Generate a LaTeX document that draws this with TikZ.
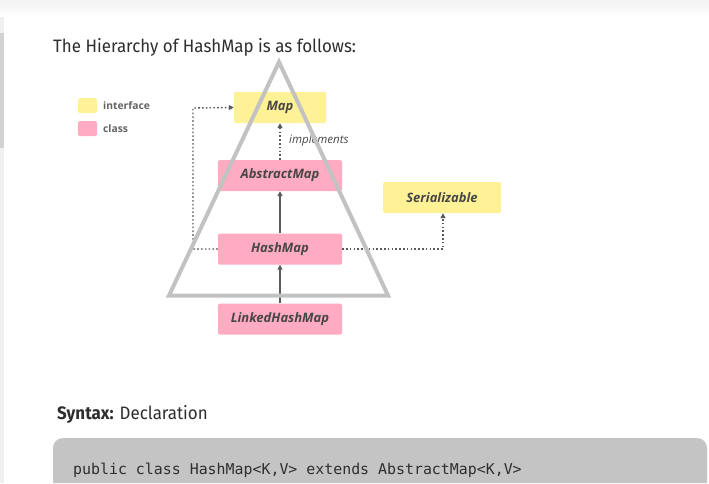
\documentclass[tikz,border=0pt]{standalone}
\usepackage{fontspec}
\setmainfont{Open Sans}
\newfontfamily\titlefont{Fira Sans}
\newfontfamily\codefont{DejaVu Sans Mono}
\usetikzlibrary{arrows.meta}
\definecolor{ifyellow}{HTML}{FFF196}
\definecolor{clpink}{HTML}{FFABC1}
\definecolor{boxtext}{HTML}{474747}
\definecolor{linegray}{HTML}{5A5A5A}
\definecolor{trigray}{HTML}{C2C2C2}
\definecolor{codebg}{HTML}{C4C4C4}
\definecolor{pagetext}{HTML}{2E2E2E}
\tikzset{
  boxbase/.style={rounded corners=1.5pt, minimum height=31pt, inner sep=0pt,
    font=\fontsize{13}{15}\selectfont\bfseries\itshape, text=boxtext},
  ifbox/.style={boxbase, fill=ifyellow},
  clbox/.style={boxbase, fill=clpink},
  legsq/.style={rounded corners=1.5pt, minimum width=19pt, minimum height=15pt, inner sep=0pt},
  legtext/.style={anchor=west, inner sep=0pt, font=\fontsize{10.3}{12}\selectfont\bfseries, text=boxtext!85},
  solidarrow/.style={draw=linegray, line width=1.3pt, -{Triangle[width=5pt,length=5pt]}},
  dotline/.style={draw=linegray, line width=1.4pt, dash pattern=on 1.6pt off 2.2pt},
  dotarrow/.style={dotline, -{Triangle[width=5pt,length=5pt]}},
  pagestyle/.style={anchor=base west, inner sep=0pt, text=pagetext},
}
\begin{document}
\begin{tikzpicture}[x=1pt,y=-1pt]
\useasboundingbox (0,0) rectangle (709,483);
\fill[white] (0,0) rectangle (709,483);
% top shadow band
\fill[gray!8] (0,0) rectangle (709,5);
\shade[top color=gray!8, bottom color=white] (0,5) rectangle (709,16);
% left strip
\fill[gray!12] (0,17) rectangle (3.5,483);
\fill[gray!35] (0,33) rectangle (3.5,148);
% title
\node[pagestyle] (title) at (53,52)
  {\titlefont\fontsize{18}{20}\selectfont\scalebox{0.94}[1]{The Hierarchy of HashMap is as follows:}};
% legend
\node[legsq, fill=ifyellow] (lgi) at (87.5,105.5) {};
\node[legtext] (lgit) at (103,106) {interface};
\node[legsq, fill=clpink] (lgc) at (87.5,128.5) {};
\node[legtext] (lgct) at (103,129) {class};
% boxes
\node[ifbox, minimum width=92pt] (map) at (280,107.5) {Map};
\node[clbox, minimum width=124pt] (abs) at (280,175.5) {AbstractMap};
\node[ifbox, minimum width=118pt] (ser) at (442,197.5) {Serializable};
\node[clbox, minimum width=124pt] (hm) at (280,249) {HashMap};
\node[clbox, minimum width=124pt] (lhm) at (280,319) {LinkedHashMap};
% connectors
\draw[dotarrow] (abs.north) -- (map.south);
\node[anchor=west, inner sep=0pt, font=\fontsize{11.5}{13}\selectfont\itshape, text=boxtext] (impl) at (289,141) {implements};
\draw[solidarrow] (hm.north) -- (abs.south);
\draw[solidarrow] (lhm.north) -- (hm.south);
\coordinate (lc) at (193,249);
\coordinate (lt) at (193,108);
\draw[dotarrow] (hm.west) -- (lc) -- (lt) -- (map.west);
\coordinate (rc) at (443,249);
\draw[dotarrow] (hm.east) -- (rc) -- (ser.south -| rc);
% triangle
\coordinate (ta) at (279,62);
\coordinate (tl) at (169,295.5);
\coordinate (tr) at (388,295.5);
\draw[trigray, line width=4pt, line join=miter] (ta) -- (tl) -- (tr) -- cycle;
% syntax line
\node[pagestyle] (syn) at (57,419)
  {\titlefont\fontsize{18}{20}\selectfont\scalebox{0.94}[1]{\textbf{Syntax:} Declaration}};
% code box
\fill[codebg] (53,483) -- (53,448) arc[start angle=180, end angle=270, radius=10] -- (697,438) arc[start angle=270, end angle=360, radius=10] -- (707,483) -- cycle;
\node[pagestyle] (code) at (73,474)
  {\codefont\fontsize{14.9}{16}\selectfont public class HashMap<K,V> extends AbstractMap<K,V>};
\end{tikzpicture}
\end{document}
